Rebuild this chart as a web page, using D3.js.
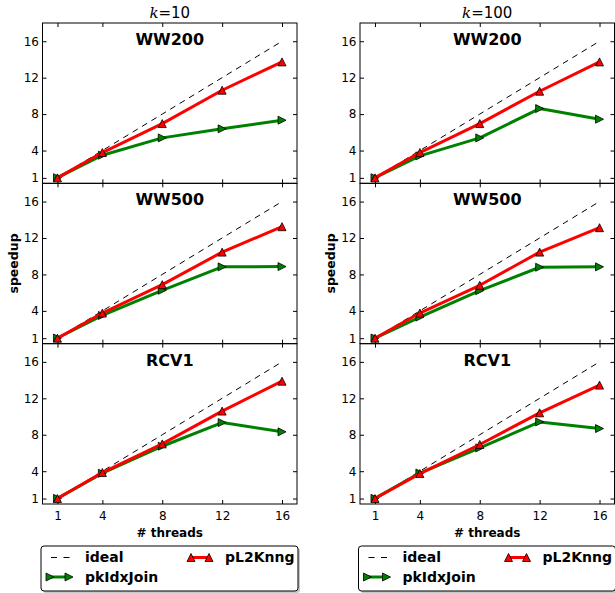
<!DOCTYPE html>
<html>
<head>
<meta charset="utf-8">
<script src="https://cdn.jsdelivr.net/npm/d3@7"></script>
<style>
  html, body { margin: 0; padding: 0; background: #fff; }
  svg { display: block; }
</style>
</head>
<body>
<svg id="chart" width="615" height="593"></svg>
<script>
// ---------- data ----------
const threads = [1, 4, 8, 12, 16];
const kValues = ["10", "100"];
const datasets = ["WW200", "WW500", "RCV1"];
const yTicks = [1, 4, 8, 12, 16];
const xTicks = [1, 4, 8, 12, 16];
const idealSpeedup = [1, 4, 8, 12, 16];

// rows: WW200, WW500, RCV1 ; columns: threads
const pL2Knng_k10 = [
  [1.0, 3.78, 6.96, 10.62, 13.73],
  [1.0, 3.76, 6.88, 10.45, 13.24],
  [1.0, 3.85, 7.00, 10.60, 13.88]
];
const pkIdxJoin_k10 = [
  [1.02, 3.49, 5.39, 6.38, 7.33],
  [1.02, 3.50, 6.26, 8.83, 8.86],
  [1.02, 3.78, 6.74, 9.34, 8.32]
];
const pL2Knng_k100 = [
  [1.0, 3.78, 6.96, 10.51, 13.73],
  [1.0, 3.76, 6.81, 10.45, 13.13],
  [1.0, 3.74, 6.93, 10.41, 13.45]
];
const pkIdxJoin_k100 = [
  [1.02, 3.41, 5.39, 8.61, 7.44],
  [1.02, 3.32, 6.22, 8.79, 8.83],
  [1.02, 3.80, 6.56, 9.41, 8.68]
];

const seriesByK = [
  { pL2: pL2Knng_k10, pk: pkIdxJoin_k10 },
  { pL2: pL2Knng_k100, pk: pkIdxJoin_k100 }
];

// ---------- layout ----------
const svg = d3.select("#chart");
const FONT = "DejaVu Sans, sans-serif";
const RED = "#ff0000", GREEN = "#008000";

const cols = [{ x0: 42.5, x1: 297 }, { x0: 360, x1: 614.5 }];
const topY = 23, botY = 504;
const panelH = (botY - topY) / 3;

const triPath = "M0,-4L-4,4L4,4Z";
const rightTriPath = "M4,0L-4,-4L-4,4Z";

cols.forEach((c, ci) => {
  const x = d3.scaleLinear().domain([0, 17]).range([c.x0, c.x1]);
  // column title
  const t = svg.append("text")
    .attr("x", (c.x0 + c.x1) / 2).attr("y", 18)
    .attr("text-anchor", "middle")
    .style("font-family", FONT).style("font-size", "15px");
  t.append("tspan").text("k").style("font-family", "DejaVu Serif, serif").style("font-style", "italic");
  t.append("tspan").text("=" + kValues[ci]);

  datasets.forEach((ds, ri) => {
    const py0 = topY + ri * panelH, py1 = py0 + panelH;
    const y = d3.scaleLinear().domain([0.4, 18]).range([py1, py0]);
    const g = svg.append("g");

    // frame
    g.append("rect").attr("x", c.x0).attr("y", py0)
      .attr("width", c.x1 - c.x0).attr("height", panelH)
      .attr("fill", "none").attr("stroke", "#000").attr("stroke-width", 1);

    // axes
    const styleAxis = (sel) => {
      sel.select(".domain").remove();
      sel.selectAll(".tick line").attr("stroke", "#000").attr("stroke-width", 1);
      sel.selectAll(".tick text").style("font-family", FONT).style("font-size", "12px").attr("fill", "#000");
    };
    g.append("g").attr("transform", `translate(${c.x0},0)`)
      .call(d3.axisLeft(y).tickValues(yTicks).tickSize(-4).tickPadding(3.5).tickFormat(d3.format("d")))
      .call(styleAxis);
    g.append("g").attr("transform", `translate(${c.x1},0)`)
      .call(d3.axisRight(y).tickValues(yTicks).tickSize(-4).tickFormat(""))
      .call(styleAxis);
    g.append("g").attr("transform", `translate(0,${py0})`)
      .call(d3.axisTop(x).tickValues(xTicks).tickSize(-4).tickFormat(""))
      .call(styleAxis);
    g.append("g").attr("transform", `translate(0,${py1})`)
      .call(d3.axisBottom(x).tickValues(xTicks).tickSize(-4).tickPadding(7)
        .tickFormat(ri === 2 ? d3.format("d") : ""))
      .call(styleAxis);

    // panel label
    g.append("text").attr("x", (c.x0 + c.x1) / 2).attr("y", py0 + 22)
      .attr("text-anchor", "middle")
      .style("font-family", FONT).style("font-size", "16px").style("font-weight", "bold")
      .text(ds);

    const line = d3.line().x((d, i) => x(threads[i])).y(d => y(d));

    // ideal
    g.append("path").datum(idealSpeedup).attr("d", line)
      .attr("fill", "none").attr("stroke", "#000").attr("stroke-width", 1)
      .attr("stroke-dasharray", "6,5");

    // pkIdxJoin
    const pk = seriesByK[ci].pk[ri];
    g.append("path").datum(pk).attr("d", line)
      .attr("fill", "none").attr("stroke", GREEN).attr("stroke-width", 3)
      .attr("stroke-linejoin", "round");
    g.selectAll(".pkm").data(pk).enter().append("path")
      .attr("transform", (d, i) => `translate(${x(threads[i])},${y(d)})`)
      .attr("d", rightTriPath).attr("fill", GREEN).attr("stroke", "#000").attr("stroke-width", 0.8);

    // pL2Knng
    const pl = seriesByK[ci].pL2[ri];
    g.append("path").datum(pl).attr("d", line)
      .attr("fill", "none").attr("stroke", RED).attr("stroke-width", 3)
      .attr("stroke-linejoin", "round");
    g.selectAll(".plm").data(pl).enter().append("path")
      .attr("transform", (d, i) => `translate(${x(threads[i])},${y(d)})`)
      .attr("d", triPath).attr("fill", RED).attr("stroke", "#000").attr("stroke-width", 0.8);

    // y label on middle panel
    if (ri === 1) {
      const lx = ci === 0 ? 13 : 330;
      svg.append("text")
        .attr("transform", `translate(${lx + 4.5},${(py0 + py1) / 2}) rotate(-90)`)
        .attr("text-anchor", "middle")
        .style("font-family", FONT).style("font-size", "12.5px").style("font-weight", "bold")
        .text("speedup");
    }
  });

  // x label
  svg.append("text").attr("x", (c.x0 + c.x1) / 2).attr("y", 537)
    .attr("text-anchor", "middle")
    .style("font-family", FONT).style("font-size", "12px").style("font-weight", "bold")
    .text("# threads");

  // legend
  const lx = c.x0 - 1.5, ly = 546, lw = 257, lh = 45;
  const lg = svg.append("g");
  lg.append("rect").attr("x", lx + 2).attr("y", ly + 2).attr("width", lw).attr("height", lh)
    .attr("rx", 3).attr("fill", "#c8c8c8");
  lg.append("rect").attr("x", lx).attr("y", ly).attr("width", lw).attr("height", lh)
    .attr("rx", 3).attr("fill", "#fff").attr("stroke", "#000").attr("stroke-width", 1);

  const r1 = 557.5, r2 = 577;
  const txt = (tx, ty, s) => lg.append("text").attr("x", tx).attr("y", ty)
    .style("font-family", FONT).style("font-size", "14px").style("font-weight", "bold").text(s);
  // ideal
  lg.append("line").attr("x1", lx + 10).attr("x2", lx + 29).attr("y1", r1).attr("y2", r1)
    .attr("stroke", "#000").attr("stroke-width", 1).attr("stroke-dasharray", "6,6.5");
  txt(lx + 44, r1 + 4.8, "ideal");
  // pkIdxJoin
  lg.append("line").attr("x1", lx + 9).attr("x2", lx + 28).attr("y1", r2).attr("y2", r2)
    .attr("stroke", GREEN).attr("stroke-width", 3);
  [lx + 9, lx + 28].forEach(mx => lg.append("path").attr("transform", `translate(${mx},${r2})`)
    .attr("d", rightTriPath).attr("fill", GREEN).attr("stroke", "#000").attr("stroke-width", 0.8));
  txt(lx + 44, r2 + 4.8, "pkIdxJoin");
  // pL2Knng
  lg.append("line").attr("x1", lx + 150).attr("x2", lx + 168).attr("y1", r1).attr("y2", r1)
    .attr("stroke", RED).attr("stroke-width", 3);
  [lx + 150, lx + 168].forEach(mx => lg.append("path").attr("transform", `translate(${mx},${r1})`)
    .attr("d", triPath).attr("fill", RED).attr("stroke", "#000").attr("stroke-width", 0.8));
  txt(lx + 184, r1 + 4.8, "pL2Knng");
});
</script>
</body>
</html>
